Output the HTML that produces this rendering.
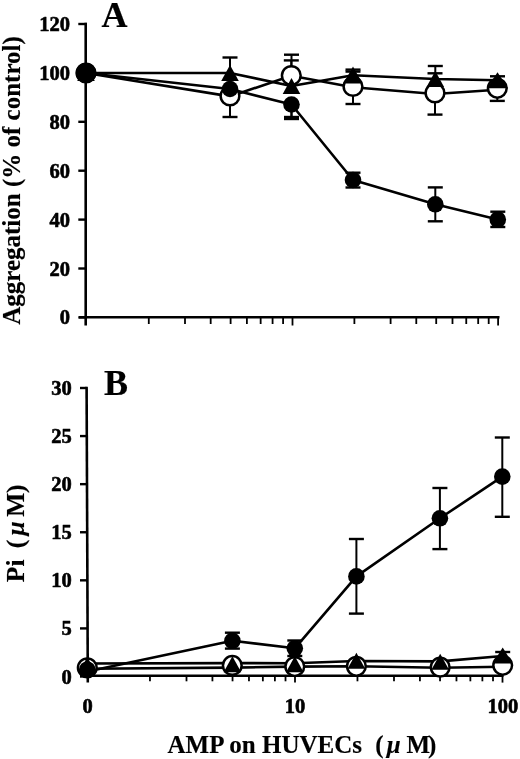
<!DOCTYPE html>
<html><head><meta charset="utf-8"><style>
html,body{margin:0;padding:0;background:#fff;}
svg{display:block;filter:grayscale(1) blur(0.35px);}
text{font-family:"Liberation Serif",serif;font-weight:bold;fill:#000;stroke:#000;stroke-width:0.6px;stroke-linejoin:round;}
text.t{stroke-width:0.15px;}
</style></head><body>
<svg width="520" height="759" viewBox="0 0 520 759" stroke="#000">
<rect width="520" height="759" fill="#fff" stroke="none"/>
<line x1="85.7" y1="22.8" x2="85.7" y2="325.5" stroke-width="2.6" stroke-linecap="butt"/>
<line x1="79" y1="317.3" x2="499.5" y2="317.3" stroke-width="2.6" stroke-linecap="butt"/>
<line x1="78.3" y1="317.4" x2="86.9" y2="317.4" stroke-width="2.4" stroke-linecap="butt"/>
<line x1="78.3" y1="268.5" x2="86.9" y2="268.5" stroke-width="2.4" stroke-linecap="butt"/>
<line x1="78.3" y1="219.6" x2="86.9" y2="219.6" stroke-width="2.4" stroke-linecap="butt"/>
<line x1="78.3" y1="170.7" x2="86.9" y2="170.7" stroke-width="2.4" stroke-linecap="butt"/>
<line x1="78.3" y1="121.8" x2="86.9" y2="121.8" stroke-width="2.4" stroke-linecap="butt"/>
<line x1="78.3" y1="72.9" x2="86.9" y2="72.9" stroke-width="2.4" stroke-linecap="butt"/>
<line x1="78.3" y1="24" x2="86.9" y2="24" stroke-width="2.4" stroke-linecap="butt"/>
<line x1="148.79" y1="317.3" x2="148.79" y2="324" stroke-width="1.8" stroke-linecap="butt"/>
<line x1="185" y1="317.3" x2="185" y2="324" stroke-width="1.8" stroke-linecap="butt"/>
<line x1="210.68" y1="317.3" x2="210.68" y2="324" stroke-width="1.8" stroke-linecap="butt"/>
<line x1="230.61" y1="317.3" x2="230.61" y2="324" stroke-width="1.8" stroke-linecap="butt"/>
<line x1="246.89" y1="317.3" x2="246.89" y2="324" stroke-width="1.8" stroke-linecap="butt"/>
<line x1="260.65" y1="317.3" x2="260.65" y2="324" stroke-width="1.8" stroke-linecap="butt"/>
<line x1="272.58" y1="317.3" x2="272.58" y2="324" stroke-width="1.8" stroke-linecap="butt"/>
<line x1="283.09" y1="317.3" x2="283.09" y2="324" stroke-width="1.8" stroke-linecap="butt"/>
<line x1="354.39" y1="317.3" x2="354.39" y2="324" stroke-width="1.8" stroke-linecap="butt"/>
<line x1="390.6" y1="317.3" x2="390.6" y2="324" stroke-width="1.8" stroke-linecap="butt"/>
<line x1="416.28" y1="317.3" x2="416.28" y2="324" stroke-width="1.8" stroke-linecap="butt"/>
<line x1="436.21" y1="317.3" x2="436.21" y2="324" stroke-width="1.8" stroke-linecap="butt"/>
<line x1="452.49" y1="317.3" x2="452.49" y2="324" stroke-width="1.8" stroke-linecap="butt"/>
<line x1="466.25" y1="317.3" x2="466.25" y2="324" stroke-width="1.8" stroke-linecap="butt"/>
<line x1="478.18" y1="317.3" x2="478.18" y2="324" stroke-width="1.8" stroke-linecap="butt"/>
<line x1="488.69" y1="317.3" x2="488.69" y2="324" stroke-width="1.8" stroke-linecap="butt"/>
<line x1="292.5" y1="317.3" x2="292.5" y2="325.5" stroke-width="1.8" stroke-linecap="butt"/>
<line x1="498.1" y1="317.3" x2="498.1" y2="325.5" stroke-width="1.8" stroke-linecap="butt"/>
<text x="70" y="324.4" font-size="20.5" text-anchor="end" >0</text>
<text x="70" y="275.5" font-size="20.5" text-anchor="end" >20</text>
<text x="70" y="226.6" font-size="20.5" text-anchor="end" >40</text>
<text x="70" y="177.7" font-size="20.5" text-anchor="end" >60</text>
<text x="70" y="128.8" font-size="20.5" text-anchor="end" >80</text>
<text x="70" y="79.9" font-size="20.5" text-anchor="end" >100</text>
<text x="70" y="31" font-size="20.5" text-anchor="end" >120</text>
<text x="101.5" y="26.8" font-size="36" text-anchor="start" style="stroke-width:0.2px">A</text>
<text x="0" y="0" font-size="25" text-anchor="middle" transform="translate(20 180.5) rotate(-90)" class="t">Aggregation (% of control)</text>
<line x1="230" y1="73" x2="230" y2="57.5" stroke-width="2" stroke-linecap="butt"/>
<line x1="222.5" y1="57.5" x2="237.5" y2="57.5" stroke-width="2.4" stroke-linecap="butt"/>
<line x1="291.5" y1="86" x2="291.5" y2="54.7" stroke-width="2" stroke-linecap="butt"/>
<line x1="284" y1="54.7" x2="299" y2="54.7" stroke-width="2.4" stroke-linecap="butt"/>
<line x1="353" y1="75.3" x2="353" y2="69.6" stroke-width="2" stroke-linecap="butt"/>
<line x1="345.5" y1="69.6" x2="360.5" y2="69.6" stroke-width="2.4" stroke-linecap="butt"/>
<line x1="435.3" y1="79" x2="435.3" y2="66" stroke-width="2" stroke-linecap="butt"/>
<line x1="427.8" y1="66" x2="442.8" y2="66" stroke-width="2.4" stroke-linecap="butt"/>
<line x1="497.5" y1="80.3" x2="497.5" y2="76.3" stroke-width="2" stroke-linecap="butt"/>
<line x1="490" y1="76.3" x2="505" y2="76.3" stroke-width="2.4" stroke-linecap="butt"/>
<line x1="353" y1="75.3" x2="353" y2="71.6" stroke-width="2" stroke-linecap="butt"/>
<line x1="345.5" y1="71.6" x2="360.5" y2="71.6" stroke-width="2.4" stroke-linecap="butt"/>
<line x1="230" y1="96" x2="230" y2="117" stroke-width="2" stroke-linecap="butt"/>
<line x1="222.5" y1="117" x2="237.5" y2="117" stroke-width="2.4" stroke-linecap="butt"/>
<line x1="291.3" y1="75.5" x2="291.3" y2="60.4" stroke-width="2" stroke-linecap="butt"/>
<line x1="283.8" y1="60.4" x2="298.8" y2="60.4" stroke-width="2.4" stroke-linecap="butt"/>
<line x1="353" y1="86.5" x2="353" y2="104" stroke-width="2" stroke-linecap="butt"/>
<line x1="345.5" y1="104" x2="360.5" y2="104" stroke-width="2.4" stroke-linecap="butt"/>
<line x1="435" y1="93" x2="435" y2="73.3" stroke-width="2" stroke-linecap="butt"/>
<line x1="427.5" y1="73.3" x2="442.5" y2="73.3" stroke-width="2.4" stroke-linecap="butt"/>
<line x1="497.3" y1="88.3" x2="497.3" y2="100.9" stroke-width="2" stroke-linecap="butt"/>
<line x1="489.8" y1="100.9" x2="504.8" y2="100.9" stroke-width="2.4" stroke-linecap="butt"/>
<line x1="435" y1="93" x2="435" y2="114.6" stroke-width="2" stroke-linecap="butt"/>
<line x1="427.5" y1="114.6" x2="442.5" y2="114.6" stroke-width="2.4" stroke-linecap="butt"/>
<line x1="291.5" y1="104.5" x2="291.5" y2="117" stroke-width="2" stroke-linecap="butt"/>
<line x1="284" y1="117" x2="299" y2="117" stroke-width="2.4" stroke-linecap="butt"/>
<line x1="353" y1="180" x2="353" y2="172.7" stroke-width="2" stroke-linecap="butt"/>
<line x1="345.5" y1="172.7" x2="360.5" y2="172.7" stroke-width="2.4" stroke-linecap="butt"/>
<line x1="435.3" y1="204.3" x2="435.3" y2="187.4" stroke-width="2" stroke-linecap="butt"/>
<line x1="427.8" y1="187.4" x2="442.8" y2="187.4" stroke-width="2.4" stroke-linecap="butt"/>
<line x1="497.8" y1="219.6" x2="497.8" y2="211.7" stroke-width="2" stroke-linecap="butt"/>
<line x1="490.3" y1="211.7" x2="505.3" y2="211.7" stroke-width="2.4" stroke-linecap="butt"/>
<line x1="291.5" y1="104.5" x2="291.5" y2="119" stroke-width="2" stroke-linecap="butt"/>
<line x1="284" y1="119" x2="299" y2="119" stroke-width="2.4" stroke-linecap="butt"/>
<line x1="353" y1="180" x2="353" y2="187.5" stroke-width="2" stroke-linecap="butt"/>
<line x1="345.5" y1="187.5" x2="360.5" y2="187.5" stroke-width="2.4" stroke-linecap="butt"/>
<line x1="435.3" y1="204.3" x2="435.3" y2="221.3" stroke-width="2" stroke-linecap="butt"/>
<line x1="427.8" y1="221.3" x2="442.8" y2="221.3" stroke-width="2.4" stroke-linecap="butt"/>
<line x1="497.8" y1="219.6" x2="497.8" y2="227" stroke-width="2" stroke-linecap="butt"/>
<line x1="490.3" y1="227" x2="505.3" y2="227" stroke-width="2.4" stroke-linecap="butt"/>
<polyline fill="none" stroke-width="2.6" stroke-linejoin="round" points="86,73 230,73 291.5,86 353,75.3 435.3,79 497.5,80.3"/>
<polyline fill="none" stroke-width="2.6" stroke-linejoin="round" points="86,73 230,96.4 291.3,75.8 353,87.3 435,94 497.3,89.8"/>
<polyline fill="none" stroke-width="2.6" stroke-linejoin="round" points="86,73 230,89 291.5,104.5 353,180 435.3,204.3 497.8,219.6"/>
<circle cx="86" cy="73" r="9.35" fill="#fff" stroke-width="2.5"/>
<circle cx="230" cy="96" r="9.35" fill="#fff" stroke-width="2.5"/>
<circle cx="291.3" cy="75.5" r="9.35" fill="#fff" stroke-width="2.5"/>
<circle cx="353" cy="86.5" r="9.35" fill="#fff" stroke-width="2.5"/>
<circle cx="435" cy="93" r="9.35" fill="#fff" stroke-width="2.5"/>
<circle cx="497.3" cy="88.3" r="9.35" fill="#fff" stroke-width="2.5"/>
<polygon fill="#000" stroke="none" points="86,65 94.8,81 77.2,81"/>
<polygon fill="#000" stroke="none" points="230,65 238.8,81 221.2,81"/>
<polygon fill="#000" stroke="none" points="291.5,78 300.3,94 282.7,94"/>
<polygon fill="#000" stroke="none" points="353,66.5 362.5,83.5 343.5,83.5"/>
<polygon fill="#000" stroke="none" points="435.3,71 444.1,87 426.5,87"/>
<polygon fill="#000" stroke="none" points="497.5,72.3 508,88.3 487,88.3"/>
<circle cx="86" cy="73" r="8.3" fill="#000" stroke="none"/>
<circle cx="230" cy="89" r="8.3" fill="#000" stroke="none"/>
<circle cx="291.5" cy="104.5" r="8.3" fill="#000" stroke="none"/>
<circle cx="353" cy="180" r="8.3" fill="#000" stroke="none"/>
<circle cx="435.3" cy="204.3" r="8.3" fill="#000" stroke="none"/>
<circle cx="497.8" cy="219.6" r="8.3" fill="#000" stroke="none"/>
<circle cx="86" cy="73" r="10.2" fill="#000" stroke="none"/>
<line x1="86.6" y1="386.8" x2="87.8" y2="682.5" stroke-width="2.6" stroke-linecap="butt"/>
<line x1="80" y1="675.8" x2="503.5" y2="675.8" stroke-width="2.6" stroke-linecap="butt"/>
<line x1="80" y1="676.5" x2="87.78" y2="676.5" stroke-width="2.4" stroke-linecap="butt"/>
<line x1="80" y1="628.41" x2="87.58" y2="628.41" stroke-width="2.4" stroke-linecap="butt"/>
<line x1="80" y1="580.33" x2="87.39" y2="580.33" stroke-width="2.4" stroke-linecap="butt"/>
<line x1="80" y1="532.25" x2="87.19" y2="532.25" stroke-width="2.4" stroke-linecap="butt"/>
<line x1="80" y1="484.16" x2="86.99" y2="484.16" stroke-width="2.4" stroke-linecap="butt"/>
<line x1="80" y1="436.07" x2="86.8" y2="436.07" stroke-width="2.4" stroke-linecap="butt"/>
<line x1="80" y1="387.99" x2="86.6" y2="387.99" stroke-width="2.4" stroke-linecap="butt"/>
<line x1="149.96" y1="675.8" x2="149.96" y2="681.3" stroke-width="1.8" stroke-linecap="butt"/>
<line x1="186.5" y1="675.8" x2="186.5" y2="681.3" stroke-width="1.8" stroke-linecap="butt"/>
<line x1="212.43" y1="675.8" x2="212.43" y2="681.3" stroke-width="1.8" stroke-linecap="butt"/>
<line x1="232.54" y1="675.8" x2="232.54" y2="681.3" stroke-width="1.8" stroke-linecap="butt"/>
<line x1="248.97" y1="675.8" x2="248.97" y2="681.3" stroke-width="1.8" stroke-linecap="butt"/>
<line x1="262.86" y1="675.8" x2="262.86" y2="681.3" stroke-width="1.8" stroke-linecap="butt"/>
<line x1="274.89" y1="675.8" x2="274.89" y2="681.3" stroke-width="1.8" stroke-linecap="butt"/>
<line x1="285.51" y1="675.8" x2="285.51" y2="681.3" stroke-width="1.8" stroke-linecap="butt"/>
<line x1="357.46" y1="675.8" x2="357.46" y2="681.3" stroke-width="1.8" stroke-linecap="butt"/>
<line x1="394" y1="675.8" x2="394" y2="681.3" stroke-width="1.8" stroke-linecap="butt"/>
<line x1="419.93" y1="675.8" x2="419.93" y2="681.3" stroke-width="1.8" stroke-linecap="butt"/>
<line x1="440.04" y1="675.8" x2="440.04" y2="681.3" stroke-width="1.8" stroke-linecap="butt"/>
<line x1="456.47" y1="675.8" x2="456.47" y2="681.3" stroke-width="1.8" stroke-linecap="butt"/>
<line x1="470.36" y1="675.8" x2="470.36" y2="681.3" stroke-width="1.8" stroke-linecap="butt"/>
<line x1="482.39" y1="675.8" x2="482.39" y2="681.3" stroke-width="1.8" stroke-linecap="butt"/>
<line x1="493.01" y1="675.8" x2="493.01" y2="681.3" stroke-width="1.8" stroke-linecap="butt"/>
<line x1="295" y1="675.8" x2="295" y2="682.6" stroke-width="1.8" stroke-linecap="butt"/>
<line x1="502.5" y1="675.8" x2="502.5" y2="682.6" stroke-width="1.8" stroke-linecap="butt"/>
<text x="71.8" y="683.5" font-size="20.5" text-anchor="end" >0</text>
<text x="71.8" y="635.41" font-size="20.5" text-anchor="end" >5</text>
<text x="71.8" y="587.33" font-size="20.5" text-anchor="end" >10</text>
<text x="71.8" y="539.25" font-size="20.5" text-anchor="end" >15</text>
<text x="71.8" y="491.16" font-size="20.5" text-anchor="end" >20</text>
<text x="71.8" y="443.07" font-size="20.5" text-anchor="end" >25</text>
<text x="71.8" y="394.99" font-size="20.5" text-anchor="end" >30</text>
<text x="104" y="394.5" font-size="36" text-anchor="start" style="stroke-width:0.2px">B</text>
<text x="0" y="0" font-size="25.5" transform="translate(24 582.2) rotate(-90)" class="t" >Pi</text>
<text x="0" y="0" font-size="25.5" transform="translate(24 548.2) rotate(-90)" class="t" >(</text>
<text x="0" y="0" font-size="25.5" transform="translate(24 535.5) rotate(-90)" class="t" font-style="italic">μ</text>
<text x="0" y="0" font-size="25.5" transform="translate(24 516.8) rotate(-90)" class="t" >M</text>
<text x="0" y="0" font-size="25.5" transform="translate(24 493) rotate(-90)" class="t" >)</text>
<line x1="232.4" y1="640.8" x2="232.4" y2="632.7" stroke-width="2" stroke-linecap="butt"/>
<line x1="224.9" y1="632.7" x2="239.9" y2="632.7" stroke-width="2.4" stroke-linecap="butt"/>
<line x1="232.4" y1="640.8" x2="232.4" y2="648.6" stroke-width="2" stroke-linecap="butt"/>
<line x1="224.9" y1="648.6" x2="239.9" y2="648.6" stroke-width="2.4" stroke-linecap="butt"/>
<line x1="294.8" y1="648.3" x2="294.8" y2="640.5" stroke-width="2" stroke-linecap="butt"/>
<line x1="287.3" y1="640.5" x2="302.3" y2="640.5" stroke-width="2.4" stroke-linecap="butt"/>
<line x1="294.8" y1="648.3" x2="294.8" y2="656" stroke-width="2" stroke-linecap="butt"/>
<line x1="287.3" y1="656" x2="302.3" y2="656" stroke-width="2.4" stroke-linecap="butt"/>
<line x1="356.4" y1="576.4" x2="356.4" y2="539" stroke-width="2" stroke-linecap="butt"/>
<line x1="348.9" y1="539" x2="363.9" y2="539" stroke-width="2.4" stroke-linecap="butt"/>
<line x1="356.4" y1="576.4" x2="356.4" y2="613.6" stroke-width="2" stroke-linecap="butt"/>
<line x1="348.9" y1="613.6" x2="363.9" y2="613.6" stroke-width="2.4" stroke-linecap="butt"/>
<line x1="439.9" y1="518.3" x2="439.9" y2="488" stroke-width="2" stroke-linecap="butt"/>
<line x1="432.4" y1="488" x2="447.4" y2="488" stroke-width="2.4" stroke-linecap="butt"/>
<line x1="439.9" y1="518.3" x2="439.9" y2="549.1" stroke-width="2" stroke-linecap="butt"/>
<line x1="432.4" y1="549.1" x2="447.4" y2="549.1" stroke-width="2.4" stroke-linecap="butt"/>
<line x1="502.3" y1="476.6" x2="502.3" y2="437.5" stroke-width="2" stroke-linecap="butt"/>
<line x1="494.8" y1="437.5" x2="509.8" y2="437.5" stroke-width="2.4" stroke-linecap="butt"/>
<line x1="502.3" y1="476.6" x2="502.3" y2="516.8" stroke-width="2" stroke-linecap="butt"/>
<line x1="494.8" y1="516.8" x2="509.8" y2="516.8" stroke-width="2.4" stroke-linecap="butt"/>
<line x1="502.7" y1="656" x2="502.7" y2="652" stroke-width="2" stroke-linecap="butt"/>
<line x1="495.2" y1="652" x2="510.2" y2="652" stroke-width="2.4" stroke-linecap="butt"/>
<polyline fill="none" stroke-width="2.6" stroke-linejoin="round" points="87.3,668.8 232.3,667.6 294.8,666.6 356.4,666.2 440.2,667.7 502.7,666.8"/>
<polyline fill="none" stroke-width="2.6" stroke-linejoin="round" points="87.3,663.5 232.4,663.1 294.8,663.2 356.4,661 440.2,661.4 502.7,656"/>
<polyline fill="none" stroke-width="2.6" stroke-linejoin="round" points="87.3,671.5 232.4,640.8 294.8,648.3 356.4,576.4 439.9,518.3 502.3,476.6"/>
<circle cx="87.3" cy="667.8" r="9.35" fill="#fff" stroke-width="2.5"/>
<circle cx="232.3" cy="665.4" r="9.35" fill="#fff" stroke-width="2.5"/>
<circle cx="294.8" cy="666.6" r="9.35" fill="#fff" stroke-width="2.5"/>
<circle cx="356.4" cy="666.3" r="9.35" fill="#fff" stroke-width="2.5"/>
<circle cx="440.2" cy="667.2" r="9.35" fill="#fff" stroke-width="2.5"/>
<circle cx="502.7" cy="665.3" r="9.35" fill="#fff" stroke-width="2.5"/>
<polygon fill="#000" stroke="none" points="87.3,657 96.1,673 78.5,673"/>
<polygon fill="#000" stroke="none" points="232.4,656.3 241.2,672.3 223.6,672.3"/>
<polygon fill="#000" stroke="none" points="294.8,656.3 303.6,672.3 286,672.3"/>
<polygon fill="#000" stroke="none" points="356.4,652.8 365.2,668.8 347.6,668.8"/>
<polygon fill="#000" stroke="none" points="440.2,653.8 449,669.8 431.4,669.8"/>
<polygon fill="#000" stroke="none" points="502.7,647.6 512.7,663.6 492.7,663.6"/>
<circle cx="232.4" cy="640.8" r="8.3" fill="#000" stroke="none"/>
<circle cx="294.8" cy="648.3" r="8.3" fill="#000" stroke="none"/>
<circle cx="356.4" cy="576.4" r="8.3" fill="#000" stroke="none"/>
<circle cx="439.9" cy="518.3" r="8.3" fill="#000" stroke="none"/>
<circle cx="502.3" cy="476.6" r="8.3" fill="#000" stroke="none"/>
<circle cx="87.3" cy="669.8" r="8.4" fill="#000" stroke="none"/>
<text x="87.5" y="712.5" font-size="20.5" text-anchor="middle" >0</text>
<text x="295" y="712.5" font-size="20.5" text-anchor="middle" >10</text>
<text x="502.9" y="712.5" font-size="20.5" text-anchor="middle" >100</text>
<text x="167.5" y="752.7" font-size="25" text-anchor="start" class="t">AMP on HUVECs</text>
<text x="375.2" y="752.7" font-size="25" text-anchor="start" class="t">(</text>
<text x="386.8" y="752.7" font-size="25" text-anchor="start" font-style="italic" class="t">μ</text>
<text x="406.5" y="752.7" font-size="25" text-anchor="start" class="t">M</text>
<text x="428" y="752.7" font-size="25" text-anchor="start" class="t">)</text>
</svg>
</body></html>
